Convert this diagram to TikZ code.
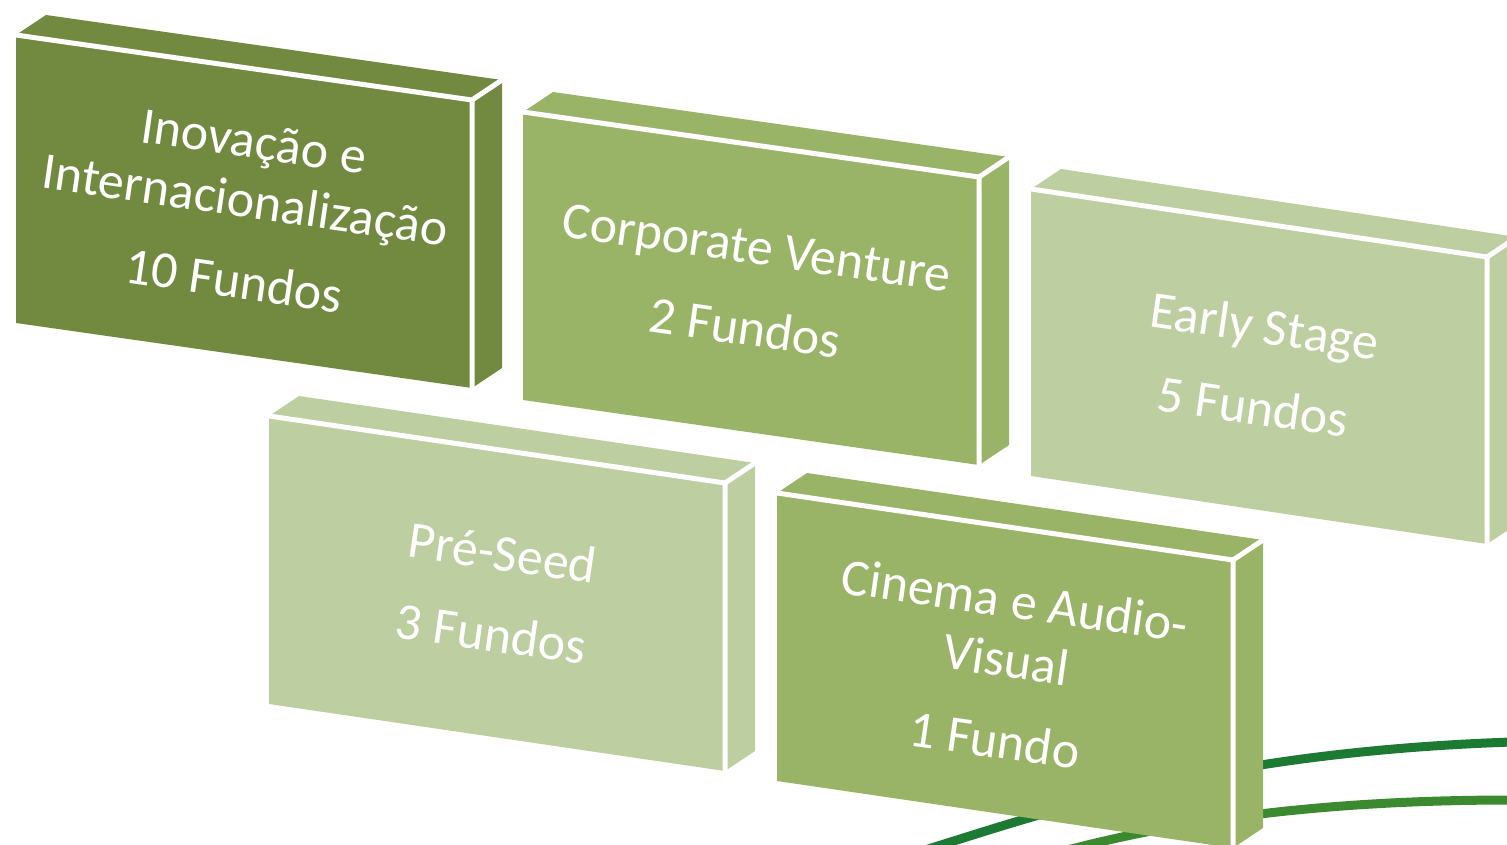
\documentclass[tikz,border=0pt]{standalone}
\usepackage{fontspec}
\setmainfont{Carlito}

\definecolor{verdeEsc}{HTML}{718A3F}
\definecolor{verdeMed}{HTML}{99B466}
\definecolor{verdeCla}{HTML}{BDCEA0}
\definecolor{linhaA}{HTML}{1C7A33}
\definecolor{linhaB}{HTML}{3C8A30}

\begin{document}
\begin{tikzpicture}[x=1pt, y=-1pt,
        aresta/.style={white, line width=5pt},
        rotulo/.style={white, align=center, rotate=-8.2, font=\fontsize{52}{59.5}\selectfont},
        faixa/.style={line width=9pt}]
        \useasboundingbox (0,0) rectangle (1507,845);
        \clip (0,0) rectangle (1507,845);

        % Caixa 1: Inovacao e Internacionalizacao
        \fill[verdeEsc] (16,35) -- (472,100) -- (472,388) -- (16,323) -- cycle;
        \fill[verdeEsc] (16,35) -- (46,15) -- (502,80) -- (472,100) -- cycle;
        \fill[verdeEsc] (472,100) -- (502,80) -- (502,368) -- (472,388) -- cycle;
        \draw[aresta] (16,35) -- (472,100) -- (472,388);
        \draw[aresta] (472,100) -- (502,80);
        \node[rotulo] (inov) at (244,211) {Inovação e\\Internacionalização\\[22pt]10 Fundos};

        % Caixa 2: Corporate Venture
        \fill[verdeMed] (523,112) -- (979,177) -- (979,465) -- (523,400) -- cycle;
        \fill[verdeMed] (523,112) -- (553,92) -- (1009,157) -- (979,177) -- cycle;
        \fill[verdeMed] (979,177) -- (1009,157) -- (1009,445) -- (979,465) -- cycle;
        \draw[aresta] (523,112) -- (979,177) -- (979,465);
        \draw[aresta] (979,177) -- (1009,157);
        \node[rotulo] (corp) at (751,288) {Corporate Venture\\[22pt]2 Fundos};

        % Caixa 3: Early Stage (cortada a direita)
        \fill[verdeCla] (1031,189) -- (1487,257) -- (1487,544) -- (1031,476) -- cycle;
        \fill[verdeCla] (1031,189) -- (1061,169) -- (1517,237) -- (1487,257) -- cycle;
        \fill[verdeCla] (1487,257) -- (1517,237) -- (1517,524) -- (1487,544) -- cycle;
        \draw[aresta] (1031,189) -- (1487,257) -- (1487,544);
        \draw[aresta] (1487,257) -- (1517,237);
        \node[rotulo] (early) at (1259,366) {Early Stage\\[22pt]5 Fundos};

        % Caixa 4: Pre-Seed
        \fill[verdeCla] (269,416) -- (725,483) -- (725,771) -- (269,704) -- cycle;
        \fill[verdeCla] (269,416) -- (299,396) -- (755,463) -- (725,483) -- cycle;
        \fill[verdeCla] (725,483) -- (755,463) -- (755,751) -- (725,771) -- cycle;
        \draw[aresta] (269,416) -- (725,483) -- (725,771);
        \draw[aresta] (725,483) -- (755,463);
        \node[rotulo] (pre) at (497,593) {Pré-Seed\\[22pt]3 Fundos};

        % Faixas verdes (passam por tras da caixa 5)
        \draw[faixa, linhaA] (925,850) .. controls (1060,808) and (1220,752) .. (1512,742);
        \draw[faixa, linhaB] (1060,852) .. controls (1150,828) and (1290,800) .. (1512,800);

        % Caixa 5: Cinema e Audio-Visual
        \fill[verdeMed] (777,493) -- (1233,560) -- (1233,848) -- (777,781) -- cycle;
        \fill[verdeMed] (777,493) -- (807,473) -- (1263,540) -- (1233,560) -- cycle;
        \fill[verdeMed] (1233,560) -- (1263,540) -- (1263,828) -- (1233,848) -- cycle;
        \draw[aresta] (777,493) -- (1233,560) -- (1233,848);
        \draw[aresta] (1233,560) -- (1263,540);
        \node[rotulo] (cine) at (1005,670) {Cinema e Audio-\\Visual\\[22pt]1 Fundo};
    \end{tikzpicture}
\end{document}
